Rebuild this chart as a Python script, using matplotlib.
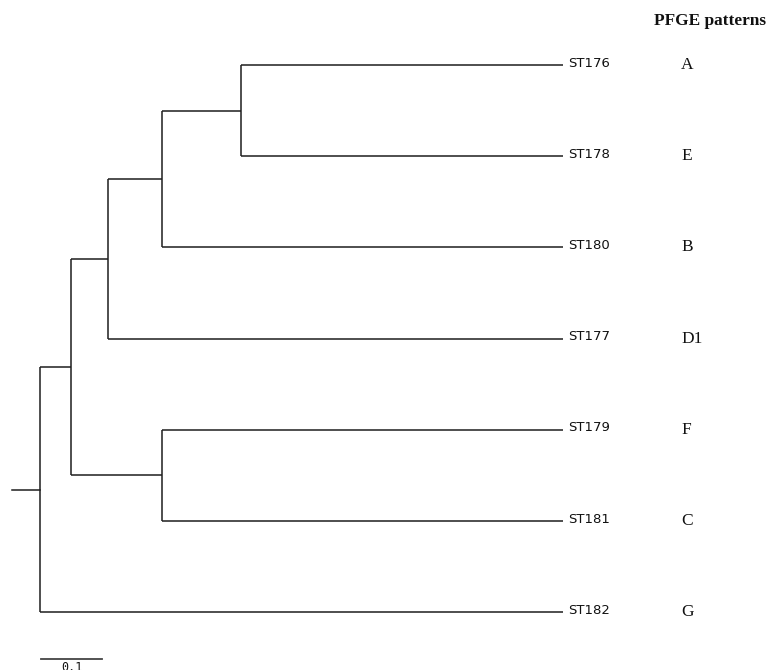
import matplotlib
matplotlib.use("Agg")
import matplotlib.pyplot as plt

# leaves, top to bottom, with their PFGE pattern
leaves = ["ST176", "ST178", "ST180", "ST177", "ST179", "ST181", "ST182"]
patterns = ["A", "E", "B", "D1", "F", "C", "G"]
leaf_depth = 0.857   # distance from root to every tip

# internal nodes: (name, child1, child2, distance from root)
nodes = [
    ("n1", "ST176", "ST178", 0.330),
    ("n2", "n1", "ST180", 0.200),
    ("n3", "n2", "ST177", 0.111),
    ("n4", "ST179", "ST181", 0.200),
    ("n5", "n3", "n4", 0.051),
    ("root", "n5", "ST182", 0.0),
]
root_stub = 0.046
scale_len = 0.1

fig = plt.figure(figsize=(7.67, 6.70), dpi=100)
ax = fig.add_axes([0, 0, 1, 1])
ax.set_xlim(-0.0656, 1.1918)
ax.set_ylim(6.636, -0.713)
ax.axis("off")

lc = "#1e1e1e"
lw = 1.1

ypos = {name: i for i, name in enumerate(leaves)}
xpos = {name: leaf_depth for name in leaves}
for name, a, b, d in nodes:
    ypos[name] = (ypos[a] + ypos[b]) / 2
    xpos[name] = d
    # vertical connector
    ax.plot([d, d], [ypos[a], ypos[b]], color=lc, lw=lw, solid_capstyle="butt")
    # horizontal branches to children
    for c in (a, b):
        ax.plot([d, xpos[c]], [ypos[c], ypos[c]], color=lc, lw=lw, solid_capstyle="butt")

# root stub
ax.plot([-root_stub, 0], [ypos["root"], ypos["root"]], color=lc, lw=lw)

for i, (lab, pat) in enumerate(zip(leaves, patterns)):
    ax.text(leaf_depth + 0.008, i - 0.02, lab, fontsize=9.5, family="DejaVu Sans",
            ha="left", va="center", color="#111111")
    ax.text(1.051, i, pat, fontsize=12.5, family="Liberation Serif",
            ha="left", va="center", color="#111111")

ax.text(1.007, -0.48, "PFGE patterns", fontsize=12.4, family="Liberation Serif",
        fontweight="bold", ha="left", va="center", color="#111111")

# scale bar
sb_y = 6.52
ax.plot([0.002, 0.002 + scale_len], [sb_y, sb_y], color="#444444", lw=1.3)
ax.text(0.002 + scale_len / 2, sb_y + 0.015, "0.1", fontsize=8.5, family="DejaVu Sans Mono",
        ha="center", va="top", color="#111111")

fig.savefig("out.png", dpi=100)
